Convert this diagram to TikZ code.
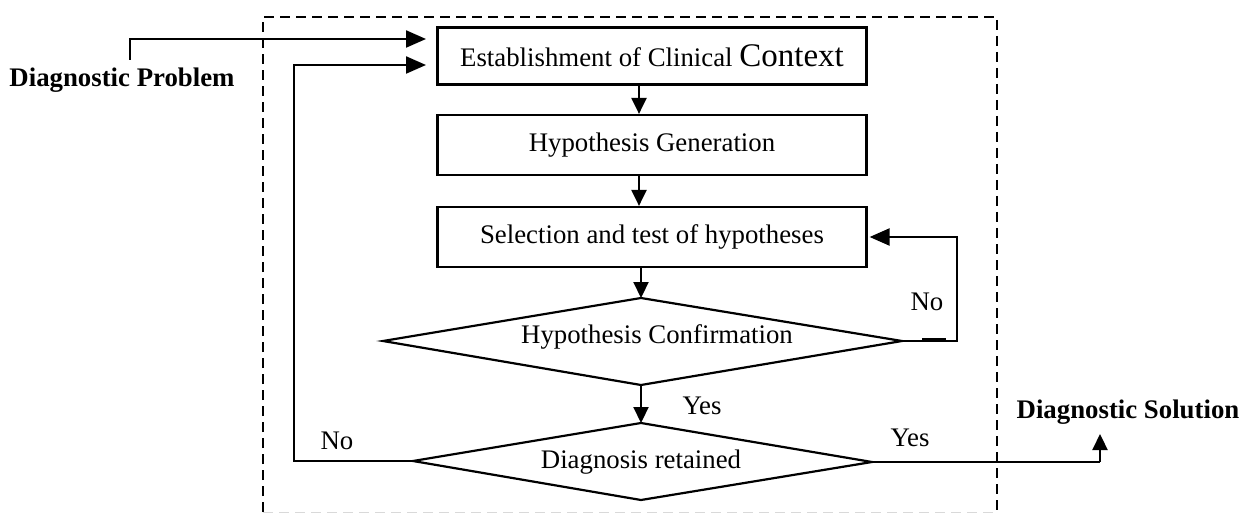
\documentclass[tikz,border=0pt]{standalone}
\usepackage{fontspec}
\setmainfont{Liberation Serif}
\usetikzlibrary{arrows.meta}
\begin{document}
\begin{tikzpicture}[x=1pt,y=-1pt,
  conn/.style={line width=2.2pt,-{Triangle[length=16pt,width=15pt]}},
  bigconn/.style={line width=2.2pt,-{Triangle[length=20pt,width=17pt]}},
  line/.style={line width=2.2pt},
  stepbox/.style={draw,line width=2.2pt,minimum width=429pt,minimum height=57pt,inner sep=0pt,font=\fontsize{26.8}{30}\selectfont},
  dshape/.style={draw,line width=2.2pt,line join=miter},
  lbl/.style={font=\fontsize{26.8}{30}\selectfont,inner sep=0pt},
  blbl/.style={font=\fontsize{26.8}{30}\selectfont\bfseries,inner sep=0pt}]
\useasboundingbox (0,0) rectangle (1242,513);
% dashed frame
\draw[line width=2.2pt,dash pattern=on 10pt off 6pt] (263,512) -- (263,17) -- (997,17) -- (997,512);
\draw[line width=1pt,gray!30,dash pattern=on 10pt off 6pt] (263,512) -- (997,512);
% boxes
\node[stepbox] (b1) at (652,56) {Establishment of Clinical {\fontsize{33}{36}\selectfont Context}};
\node[stepbox,minimum height=60pt] (b2) at (652,145) {Hypothesis Generation};
\node[stepbox,minimum height=60pt] (b3) at (652,237) {Selection and test of hypotheses};
% decision 1
\coordinate (d1n) at (641,298);
\coordinate (d1e) at (902,341);
\coordinate (d1s) at (641,385);
\coordinate (d1w) at (383,341);
\draw[dshape] (d1n) -- (d1e) -- (d1s) -- (d1w) -- cycle;
\node[lbl] (d1) at (657,337) {Hypothesis Confirmation};
% decision 2
\coordinate (d2n) at (641,423);
\coordinate (d2e) at (872,462);
\coordinate (d2s) at (641,500);
\coordinate (d2w) at (413,461);
\draw[dshape] (d2n) -- (d2e) -- (d2s) -- (d2w) -- cycle;
\node[lbl] (d2) at (641,462) {Diagnosis retained};
% outer texts
\node[blbl] (dp) at (122,80) {Diagnostic Problem};
\node[blbl] (ds) at (1128,412) {Diagnostic Solution};
% labels
\node[lbl] (no1) at (927,302) {No};
\node[lbl] (yes1) at (702,406) {Yes};
\node[lbl] (no2) at (337,441) {No};
\node[lbl] (yes2) at (910,438) {Yes};
% helper coordinates
\coordinate (pin) at (130,60);
\coordinate (pin2) at (130,39);
\coordinate (ent) at (426,0);
\coordinate (ax) at (639,0);
\coordinate (rl) at (957,341);
\coordinate (lc) at (294,65);
\coordinate (sol) at (1100,462);
\coordinate (soltip) at (1100,434);
% connectors
\draw[bigconn] (pin) -- (pin2) -- (pin2 -| ent);
\draw[bigconn] (d2w) -- (d2w -| lc) -- (lc) -- (lc -| ent);
\draw[conn] (b1.south -| ax) -- (b2.north -| ax);
\draw[conn] (b2.south -| ax) -- (b3.north -| ax);
\draw[conn] (b3.south -| d1n) -- (d1n);
\draw[conn] (d1s) -- (d2n);
\draw[bigconn] (d1e) -- (rl) -- (rl |- b3.east) -- ([xshift=2pt]b3.east);
\draw[line width=4pt] (922,340) -- (946,340);
\draw[line] (d2e) -- (sol);
\draw[conn] (sol) -- (soltip);
\end{tikzpicture}
\end{document}
